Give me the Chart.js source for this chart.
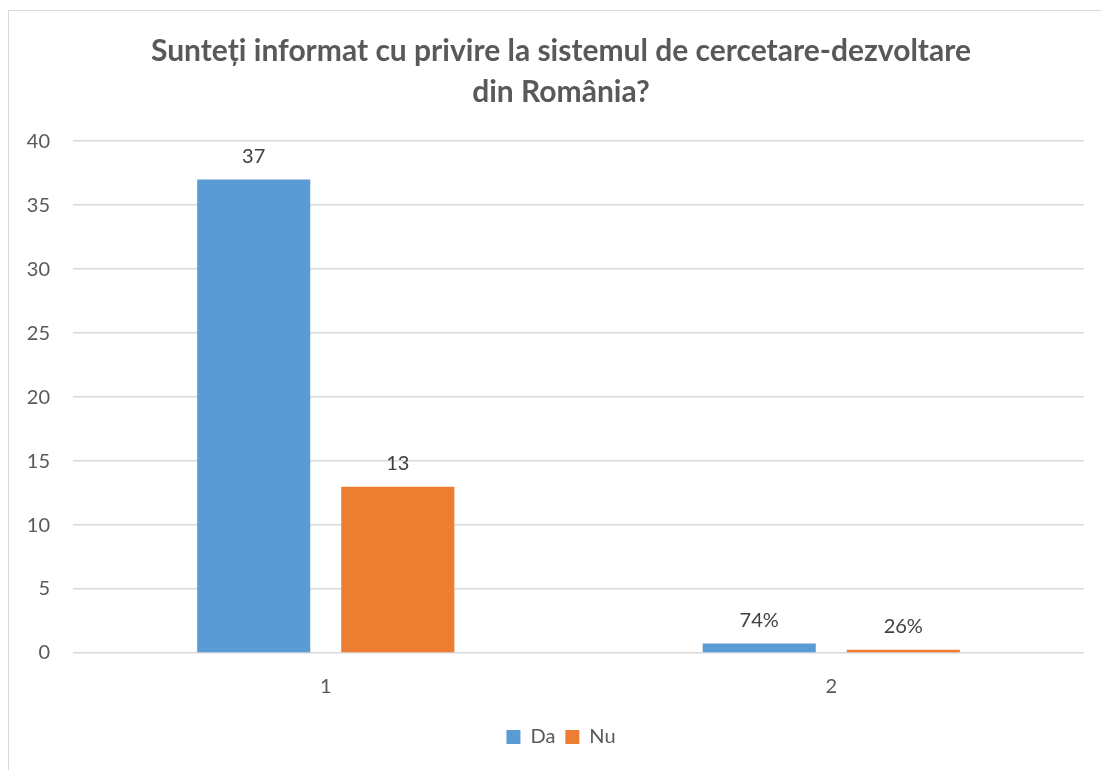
<!DOCTYPE html>
<html>
<head>
  <meta charset="UTF-8">
  <title>Sunteți informat cu privire la sistemul de cercetare-dezvoltare din România?</title>
  <script src="https://cdn.jsdelivr.net/npm/chart.js"></script>
  <style>
    html, body { margin: 0; padding: 0; background: #ffffff; overflow: hidden; }
    #chart { position: absolute; left: 8px; top: 10px; }
    #frame { position: absolute; left: 8px; top: 10px; width: 1200px; height: 900px;
             border: 1px solid #d9d9d9; pointer-events: none; }
  </style>
</head>
<body>
  <canvas id="chart" width="1093" height="760"></canvas>
  <div id="frame"></div>
  <script>
    // chart data
    const categories = ['1', '2'];
    const daValues = [37, 0.74];
    const nuValues = [13, 0.26];
    // second category holds shares, shown as percent
    const valueFormat = ['number', 'percent'];
    const yTicks = [0, 5, 10, 15, 20, 25, 30, 35, 40];

    const textColor = '#595959';
    const fontFamily = 'Lato, "Open Sans", sans-serif';

    function formatValue(v, i) {
      if (valueFormat[i] === 'percent') return Math.round(v * 100) + '%';
      return String(v);
    }

    // draws the value above each bar
    const barLabels = {
      id: 'barLabels',
      afterDatasetsDraw(chart) {
        const ctx = chart.ctx;
        ctx.save();
        ctx.font = '20px ' + fontFamily;
        ctx.fillStyle = '#404040';
        ctx.textAlign = 'center';
        ctx.textBaseline = 'bottom';
        chart.data.datasets.forEach((ds, di) => {
          chart.getDatasetMeta(di).data.forEach((bar, i) => {
            ctx.fillText(formatValue(ds.data[i], i), bar.x, bar.y - 13);
          });
        });
        ctx.restore();
      }
    };

    new Chart(document.getElementById('chart'), {
      type: 'bar',
      data: {
        labels: categories,
        datasets: [
          { label: 'Da', data: daValues, backgroundColor: '#5b9bd5' },
          { label: 'Nu', data: nuValues, backgroundColor: '#ed7d31' }
        ]
      },
      plugins: [barLabels],
      options: {
        responsive: false,
        animation: false,
        devicePixelRatio: 1,
        categoryPercentage: 0.57,
        barPercentage: 0.785,
        layout: { padding: { left: 30, right: 17, top: 0, bottom: 13 } },
        scales: {
          x: {
            grid: { display: false, drawTicks: false },
            border: { display: false },
            ticks: { color: textColor, font: { family: fontFamily, size: 20 }, padding: 22 },
            afterFit(scale) { scale.height = 64; }
          },
          y: {
            min: 0,
            max: 40,
            afterBuildTicks(scale) { scale.ticks = yTicks.map(v => ({ value: v })); },
            grid: { color: '#d9d9d9', lineWidth: 1.5, drawTicks: false },
            border: { display: false },
            ticks: { color: textColor, font: { family: fontFamily, size: 20 }, padding: 23 },
            afterFit(scale) {
              scale.width = 35;
              // labels may reach into the left padding, so don't clip them
              scale._computeLabelArea = () => undefined;
            }
          }
        },
        plugins: {
          title: {
            display: true,
            text: ['Sunteți informat cu privire la sistemul de cercetare-dezvoltare', 'din România?'],
            color: textColor,
            font: { family: fontFamily, size: 30, weight: 'bold', lineHeight: 1.37 },
            padding: { top: 21, bottom: 28 }
          },
          legend: {
            position: 'bottom',
            labels: {
              color: textColor,
              font: { family: fontFamily, size: 20 },
              boxWidth: 14,
              boxHeight: 14,
              padding: 10
            }
          },
          tooltip: { enabled: false }
        }
      }
    });
  </script>
</body>
</html>
